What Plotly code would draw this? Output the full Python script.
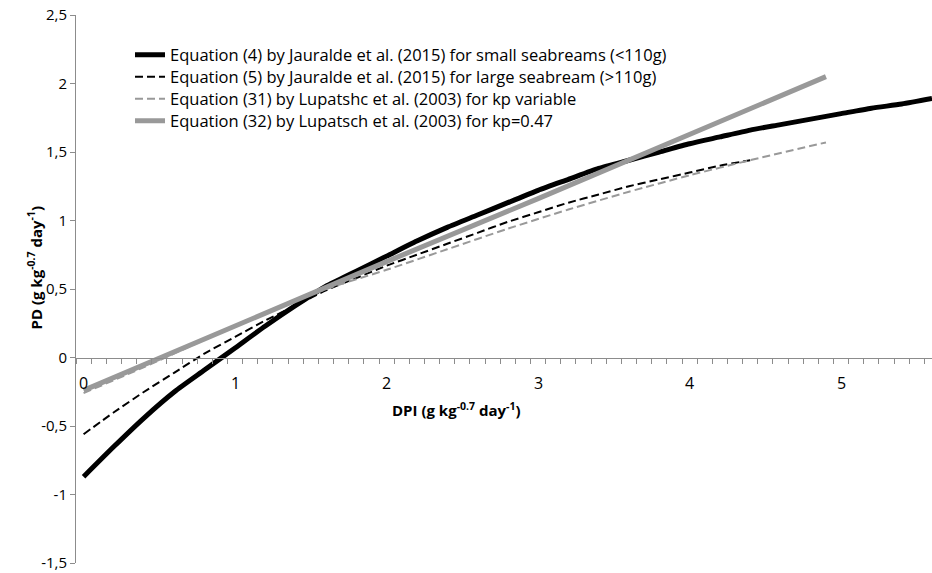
import plotly.graph_objects as go

# Data
x_eq4 = [0, 0.2, 0.4, 0.6, 0.8, 1.0, 1.2, 1.4, 1.6, 1.8, 2.0, 2.2, 2.4, 2.6, 2.8, 3.0,
         3.2, 3.4, 3.6, 3.8, 4.0, 4.2, 4.4, 4.6, 4.8, 5.0, 5.2, 5.4, 5.6]
y_eq4 = [-0.87, -0.65, -0.44, -0.25, -0.09, 0.07, 0.23, 0.38, 0.52, 0.63, 0.74, 0.85,
         0.95, 1.04, 1.13, 1.22, 1.30, 1.38, 1.44, 1.50, 1.56, 1.61, 1.66, 1.70, 1.74,
         1.78, 1.82, 1.85, 1.89]

x_eq5 = [0, 0.2, 0.4, 0.6, 0.8, 1.0, 1.2, 1.4, 1.6, 1.8, 2.0, 2.2, 2.4, 2.6, 2.8, 3.0,
         3.2, 3.4, 3.6, 3.8, 4.0, 4.2, 4.4]
y_eq5 = [-0.56, -0.40, -0.25, -0.11, 0.03, 0.15, 0.27, 0.38, 0.49, 0.58, 0.67, 0.75,
         0.83, 0.91, 0.99, 1.06, 1.13, 1.19, 1.25, 1.30, 1.35, 1.40, 1.44]

x_eq31 = [0, 0.4, 0.8, 1.2, 1.6, 2.0, 2.4, 2.8, 3.2, 3.6, 4.0, 4.4, 4.9]
y_eq31 = [-0.26, -0.07, 0.13, 0.32, 0.50, 0.64, 0.79, 0.94, 1.08, 1.21, 1.33, 1.44, 1.57]

x_eq32 = [0, 1, 2, 3, 4, 4.9]
y_eq32 = [-0.24, 0.23, 0.70, 1.16, 1.63, 2.05]

names = [
    "Equation (4) by Jauralde et al. (2015) for small seabreams (<110g)",
    "Equation (5) by Jauralde et al. (2015) for large seabream (>110g)",
    "Equation (31) by Lupatshc et al. (2003) for kp variable",
    "Equation (32) by Lupatsch et al. (2003) for kp=0.47",
]

y_tickvals = [-1.5, -1, -0.5, 0, 0.5, 1, 1.5, 2, 2.5]
y_ticktext = ["-1,5", "-1", "-0,5", "0", "0,5", "1", "1,5", "2", "2,5"]
x_tickvals = [0, 1, 2, 3, 4, 5]
x_ticktext = ["0", "1", "2", "3", "4", "5"]
# category boundaries of the x axis (small tick marks)
x_boundary_ticks = [round(-0.05 + 0.1 * k, 2) for k in range(58)]

FONT = "Open Sans"
AXIS = "#8c8c8c"
GRAY = "#999999"
X_RANGE = [-0.05, 5.6]

W, H = 932, 573
L, R, T, B = 76, 0, 15, 10
pw, ph = W - L - R, H - T - B

def py(pix):
    return (H - B - pix) / ph

def px(pix):
    return (pix - L) / pw

fig = go.Figure()
styles = [
    dict(color="black", width=5, shape="spline", smoothing=0.6),
    dict(color="black", width=2, dash="8px,4px", shape="spline", smoothing=0.6),
    dict(color=GRAY, width=2, dash="8px,4px", shape="spline", smoothing=0.6),
    dict(color=GRAY, width=5),
]
xs = [x_eq4, x_eq5, x_eq31, x_eq32]
ys = [y_eq4, y_eq5, y_eq31, y_eq32]
legend_ids = ["legend", "legend2", "legend3", "legend4"]
legend_rows = [55, 77, 99, 121]

for i in range(4):
    fig.add_trace(go.Scatter(x=xs[i], y=ys[i], mode="lines", name=names[i],
                             line=styles[i], legend=legend_ids[i]))

legend_common = dict(xanchor="left", yanchor="middle", bgcolor="rgba(0,0,0,0)",
                     font=dict(family=FONT, size=16.5, color="black"))
layout_legends = {}
for lid, row in zip(legend_ids, legend_rows):
    layout_legends[lid] = dict(x=px(130), y=py(row), **legend_common)

fig.update_layout(
    width=W, height=H,
    margin=dict(l=L, r=R, t=T, b=B),
    paper_bgcolor="white", plot_bgcolor="white",
    font=dict(family=FONT, size=16, color="black"),
    showlegend=True,
    xaxis=dict(range=X_RANGE, anchor="free", position=0.375,
               showgrid=False, zeroline=False, showline=True, linecolor=AXIS, linewidth=1,
               tickmode="array", tickvals=x_boundary_ticks, showticklabels=False,
               ticks="outside", ticklen=5, tickcolor=AXIS, tickwidth=1),
    xaxis2=dict(range=X_RANGE, overlaying="x", side="bottom", anchor="free",
                position=0.375, showgrid=False, zeroline=False, showline=False,
                tickmode="array", tickvals=x_tickvals, showticklabels=False,
                ticks="outside", ticklen=13, tickcolor="rgba(0,0,0,0)"),
    yaxis=dict(range=[-1.5, 2.5], showgrid=False, zeroline=False, showline=True,
               linecolor=AXIS, linewidth=1, tickvals=y_tickvals, ticktext=y_ticktext,
               ticks="outside", ticklen=5, tickcolor=AXIS, tickfont=dict(size=15)),
    **layout_legends,
)

# x tick labels, centred on the categories, below the axis line at y = 0
for v, t in zip(x_tickvals, x_ticktext):
    fig.add_annotation(x=v, y=0, xref="x", yref="y", text=t, showarrow=False,
                       yshift=-25, font=dict(size=16))

fig.add_annotation(x=px(456), y=py(422), xref="paper", yref="paper",
                   text="<b>DPI (g kg<sup>-0.7</sup> day<sup>-1</sup>)</b>",
                   showarrow=False, font=dict(size=15))
fig.add_annotation(x=px(22), y=py(268), xref="paper", yref="paper",
                   text="<b>PD (g kg<sup>-0.7</sup> day<sup>-1</sup>)</b>",
                   showarrow=False, font=dict(size=15), textangle=-90)

fig.write_html("out.html")
